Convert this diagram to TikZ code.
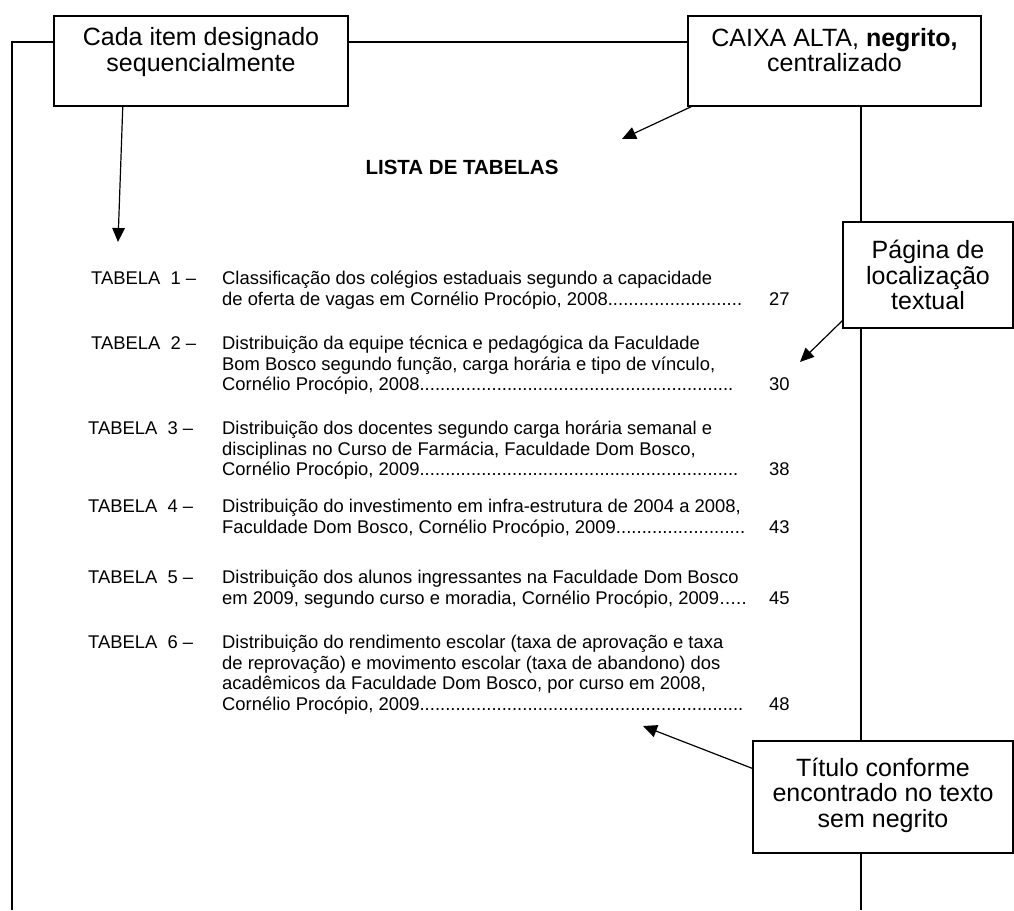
\documentclass[tikz,border=0pt]{standalone}
\usepackage{fontspec}
\setmainfont{Liberation Sans}
\usetikzlibrary{arrows.meta,calc}

% last line of an entry, filled with a dotted leader up to a fixed width
\newcommand\leaderline[2]{\hbox to #1pt{#2\xleaders\hbox{.}\hfill}}

\begin{document}
\begin{tikzpicture}[x=1pt,y=-1pt,
  callout/.style={draw,line width=1.2pt,inner sep=0pt},
  callouttext/.style={inner sep=0pt,align=center,
    font=\fontsize{25}{25.5}\selectfont},
  entry/.style={anchor=base west,inner sep=0pt,font=\fontsize{18.4}{20.7}\selectfont},
  frameline/.style={line width=1.2pt},
  pointer/.style={line width=1.2pt,-{Triangle[length=14pt,width=12.5pt]}},
]
\useasboundingbox (0,0) rectangle (1014,910);

% callout boxes and their texts
\node[callout,minimum width=294pt,minimum height=90pt] (b1) at (201,61) {};
\node[callouttext] (b1t) at (201,52)
  {Cada item designado\\sequencialmente};
\node[callout,minimum width=293pt,minimum height=90pt] (b2) at (834.5,61) {};
\node[callouttext] (b2t) at (834.5,50)
  {CAIXA ALTA, \textbf{negrito,}\\centralizado};
\node[callout,minimum width=170pt,minimum height=106pt] (b3) at (928,275) {};
\node[callouttext] (b3t) at (928,275)
  {Página de\\localização\\textual};
\node[callout,minimum width=260pt,minimum height=112pt] (b4) at (883,797) {};
\node[callouttext] (b4t) at (883,795)
  {Título conforme\\encontrado no texto\\sem negrito};

% page outline
\coordinate (ptl) at (12,42);
\coordinate (pbl) at (12,910);
\coordinate (prx) at (861,0);
\draw[frameline] (pbl) -- (ptl) -- (ptl -| b1.west);
\draw[frameline] (ptl -| b1.east) -- (ptl -| b2.west);
\draw[frameline] (b2.south -| prx) -- (b3.north -| prx);
\draw[frameline] (b3.south -| prx) -- (b4.north -| prx);
\draw[frameline] (b4.south -| prx) -- (prx |- pbl);

% title
\node[inner sep=0pt,font=\fontsize{20.5}{22}\selectfont\bfseries] (title) at (462,167)
  {LISTA DE TABELAS};

% entries
\node[entry] (l1) at (91,284.5) {TABELA~~1 –};
\node[entry] (r1a) at (222,284.5) {Classificação dos colégios estaduais segundo a capacidade};
\node[entry] (r1b) at (222,305.2) {\leaderline{520}{de oferta de vagas em Cornélio Procópio, 2008}};
\node[entry] (p1) at (769,305.2) {27};

\node[entry] (l2) at (91,349.5) {TABELA~~2 –};
\node[entry] (r2a) at (222,349.5) {Distribuição da equipe técnica e pedagógica da Faculdade};
\node[entry] (r2b) at (222,370.2) {Bom Bosco segundo função, carga horária e tipo de vínculo,};
\node[entry] (r2c) at (222,390.9) {\leaderline{511}{Cornélio Procópio, 2008}};
\node[entry] (p2) at (769,390.9) {30};

\node[entry] (l3) at (88,434.5) {TABELA~~3 –};
\node[entry] (r3a) at (222,434.5) {Distribuição dos docentes segundo carga horária semanal e};
\node[entry] (r3b) at (222,455.2) {disciplinas no Curso de Farmácia, Faculdade Dom Bosco,};
\node[entry] (r3c) at (222,475.9) {\leaderline{516}{Cornélio Procópio, 2009}};
\node[entry] (p3) at (769,475.9) {38};

\node[entry] (l4) at (88,512.5) {TABELA~~4 –};
\node[entry] (r4a) at (222,512.5) {Distribuição do investimento em infra-estrutura de 2004 a 2008,};
\node[entry] (r4b) at (222,533.2) {\leaderline{523}{Faculdade Dom Bosco, Cornélio Procópio, 2009}};
\node[entry] (p4) at (769,533.2) {43};

\node[entry] (l5) at (88,583.8) {TABELA~~5 –};
\node[entry] (r5a) at (222,583.8) {Distribuição dos alunos ingressantes na Faculdade Dom Bosco};
\node[entry] (r5b) at (222,604.5) {\leaderline{525}{em 2009, segundo curso e moradia, Cornélio Procópio, 2009}};
\node[entry] (p5) at (769,604.5) {45};

\node[entry] (l6) at (88,648.5) {TABELA~~6 –};
\node[entry] (r6a) at (222,648.5) {Distribuição do rendimento escolar (taxa de aprovação e taxa};
\node[entry] (r6b) at (222,669.2) {de reprovação) e movimento escolar (taxa de abandono) dos};
\node[entry] (r6c) at (222,689.9) {acadêmicos da Faculdade Dom Bosco, por curso em 2008,};
\node[entry] (r6d) at (222,710.6) {\leaderline{521}{Cornélio Procópio, 2009}};
\node[entry] (p6) at (769,710.6) {48};

% pointers
\coordinate (t1) at (118,242);
\coordinate (t2) at (622,139);
\coordinate (t3) at (800,362);
\coordinate (t4) at (643,726);
\draw[pointer] ($(b1.south west)!0.235!(b1.south east)$) -- (t1);
\draw[pointer] ($(b2.south west)+(4,0)$) -- (t2);
\draw[pointer] ($(b3.south west)+(0,-8)$) -- (t3);
\draw[pointer] ($(b4.north west)+(0,28)$) -- (t4);
\end{tikzpicture}
\end{document}
